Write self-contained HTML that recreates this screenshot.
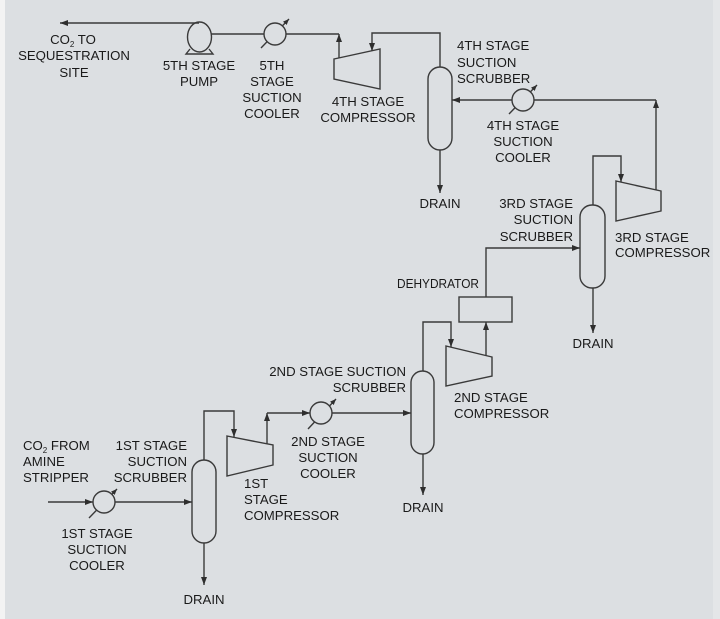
<!DOCTYPE html>
<html>
<head>
<meta charset="utf-8">
<style>
  html, body { margin: 0; padding: 0; background: #dcdfe2; }
  body { width: 720px; height: 619px; overflow: hidden; }
  svg { display: block; }
  text { font-family: "Liberation Sans", Arial, sans-serif; font-size: 13.2px; fill: #1a1a1a; }
</style>
</head>
<body>
<svg width="720" height="619" viewBox="0 0 720 619" xmlns="http://www.w3.org/2000/svg">
  <defs>
    <marker id="a" viewBox="0 0 8 6" refX="8" refY="3" markerWidth="8" markerHeight="6" markerUnits="userSpaceOnUse" orient="auto">
      <path d="M0,0 L8,3 L0,6 z" fill="#2e2e2e"/>
    </marker>
    <marker id="s" viewBox="0 0 6 5" refX="6" refY="2.5" markerWidth="6" markerHeight="5" markerUnits="userSpaceOnUse" orient="auto">
      <path d="M0,0 L6,2.5 L0,5 z" fill="#2e2e2e"/>
    </marker>
  </defs>

  <rect x="0" y="0" width="720" height="619" fill="#dcdfe2"/>
  <rect x="0" y="0" width="5" height="619" fill="#f3f3f3"/>
  <rect x="713" y="0" width="7" height="619" fill="#e4e6e8"/>

  <g fill="none" stroke="#3a3a3a" stroke-width="1.4">
    <!-- top: pump outlet to sequestration -->
    <line x1="199" y1="23" x2="60" y2="23" marker-end="url(#a)"/>
    <ellipse cx="199.5" cy="37" rx="12" ry="15"/>
    <path d="M190,49 L186,54 L213,54 L209,49"/>
    <line x1="211.5" y1="34" x2="264" y2="34"/>
    <line x1="261" y1="48" x2="289" y2="19" marker-end="url(#s)"/>
    <circle cx="275" cy="34" r="11" fill="#dcdfe2"/>
    <line x1="286" y1="34" x2="339" y2="34"/>
    <line x1="339" y1="58" x2="339" y2="34" marker-end="url(#a)"/>

    <!-- 4th stage compressor -->
    <polygon points="334,59 380,49 380,89 334,79"/>
    <polyline points="440,67 440,33 372,33 372,51" marker-end="url(#a)"/>
    <!-- 4th stage scrubber -->
    <rect x="428" y="67" width="24" height="83" rx="12" ry="12"/>
    <line x1="440" y1="150" x2="440" y2="193" marker-end="url(#a)"/>
    <!-- 4th stage cooler -->
    <line x1="512" y1="100" x2="452" y2="100" marker-end="url(#a)"/>
    <line x1="509" y1="114" x2="537" y2="85" marker-end="url(#s)"/>
    <circle cx="523" cy="100" r="11" fill="#dcdfe2"/>
    <line x1="534" y1="100" x2="656" y2="100"/>
    <line x1="656" y1="190" x2="656" y2="100" marker-end="url(#a)"/>

    <!-- 3rd stage compressor -->
    <polygon points="616,181 661,191 661,211 616,221"/>
    <polyline points="593,205 593,156 621,156 621,182" marker-end="url(#a)"/>
    <!-- 3rd stage scrubber -->
    <rect x="580" y="205" width="25" height="83" rx="12" ry="12"/>
    <line x1="593" y1="288" x2="593" y2="333" marker-end="url(#a)"/>
    <polyline points="486,297 486,248 580,248" marker-end="url(#a)"/>

    <!-- dehydrator -->
    <rect x="459" y="297" width="53" height="25"/>
    <line x1="486" y1="356" x2="486" y2="322" marker-end="url(#a)"/>

    <!-- 2nd stage compressor -->
    <polygon points="446,346 492,357 492,376 446,386"/>
    <polyline points="423,371 423,322 451,322 451,347" marker-end="url(#a)"/>
    <!-- 2nd stage scrubber -->
    <rect x="411" y="371" width="23" height="83" rx="11.5" ry="11.5"/>
    <line x1="423" y1="454" x2="423" y2="495" marker-end="url(#a)"/>
    <!-- 2nd stage cooler -->
    <line x1="267" y1="413" x2="310" y2="413" marker-end="url(#a)"/>
    <line x1="308" y1="429" x2="336" y2="399" marker-end="url(#s)"/>
    <circle cx="321" cy="413" r="11" fill="#dcdfe2"/>
    <line x1="332" y1="413" x2="411" y2="413" marker-end="url(#a)"/>
    <line x1="267" y1="444" x2="267" y2="413" marker-end="url(#a)"/>

    <!-- 1st stage compressor -->
    <polygon points="227,436 273,445 273,465 227,476"/>
    <polyline points="204,460 204,411 234,411 234,437" marker-end="url(#a)"/>
    <!-- 1st stage scrubber -->
    <rect x="192" y="460" width="24" height="83" rx="12" ry="12"/>
    <line x1="204" y1="543" x2="204" y2="585" marker-end="url(#a)"/>
    <!-- 1st stage cooler -->
    <line x1="48" y1="502" x2="93" y2="502" marker-end="url(#a)"/>
    <line x1="89" y1="518" x2="117" y2="489" marker-end="url(#s)"/>
    <circle cx="104" cy="502" r="11" fill="#dcdfe2"/>
    <line x1="115" y1="502" x2="192" y2="502" marker-end="url(#a)"/>
  </g>

  <!-- Labels -->
  <g text-anchor="middle">
    <text x="73" y="44">CO<tspan font-size="8" dy="3">2</tspan><tspan dy="-3"> TO</tspan></text>
    <text x="74" y="60">SEQUESTRATION</text>
    <text x="74" y="77">SITE</text>

    <text x="199" y="70">5TH STAGE</text>
    <text x="199" y="86">PUMP</text>

    <text x="272" y="70">5TH</text>
    <text x="272" y="86">STAGE</text>
    <text x="272" y="102">SUCTION</text>
    <text x="272" y="118">COOLER</text>

    <text x="368" y="106">4TH STAGE</text>
    <text x="368" y="122">COMPRESSOR</text>

    <text x="523" y="130">4TH STAGE</text>
    <text x="523" y="146">SUCTION</text>
    <text x="523" y="162">COOLER</text>

    <text x="440" y="208">DRAIN</text>
    <text x="593" y="348">DRAIN</text>
    <text x="423" y="512">DRAIN</text>
    <text x="204" y="604">DRAIN</text>

    <text x="328" y="446">2ND STAGE</text>
    <text x="328" y="462">SUCTION</text>
    <text x="328" y="478">COOLER</text>

    <text x="97" y="538">1ST STAGE</text>
    <text x="97" y="554">SUCTION</text>
    <text x="97" y="570">COOLER</text>
  </g>

  <g text-anchor="start">
    <text x="457" y="50">4TH STAGE</text>
    <text x="457" y="67">SUCTION</text>
    <text x="457" y="83">SCRUBBER</text>

    <text x="615" y="242">3RD STAGE</text>
    <text x="615" y="257">COMPRESSOR</text>

    <text x="397" y="288" textLength="82" lengthAdjust="spacingAndGlyphs">DEHYDRATOR</text>

    <text x="454" y="402">2ND STAGE</text>
    <text x="454" y="418">COMPRESSOR</text>

    <text x="23" y="450">CO<tspan font-size="8" dy="3">2</tspan><tspan dy="-3"> FROM</tspan></text>
    <text x="23" y="466">AMINE</text>
    <text x="23" y="482">STRIPPER</text>

    <text x="244" y="488">1ST</text>
    <text x="244" y="504">STAGE</text>
    <text x="244" y="520">COMPRESSOR</text>
  </g>

  <g text-anchor="end">
    <text x="573" y="208">3RD STAGE</text>
    <text x="573" y="224">SUCTION</text>
    <text x="573" y="241">SCRUBBER</text>

    <text x="406" y="376">2ND STAGE SUCTION</text>
    <text x="406" y="392">SCRUBBER</text>

    <text x="187" y="450">1ST STAGE</text>
    <text x="187" y="466">SUCTION</text>
    <text x="187" y="482">SCRUBBER</text>
  </g>
</svg>
</body>
</html>
